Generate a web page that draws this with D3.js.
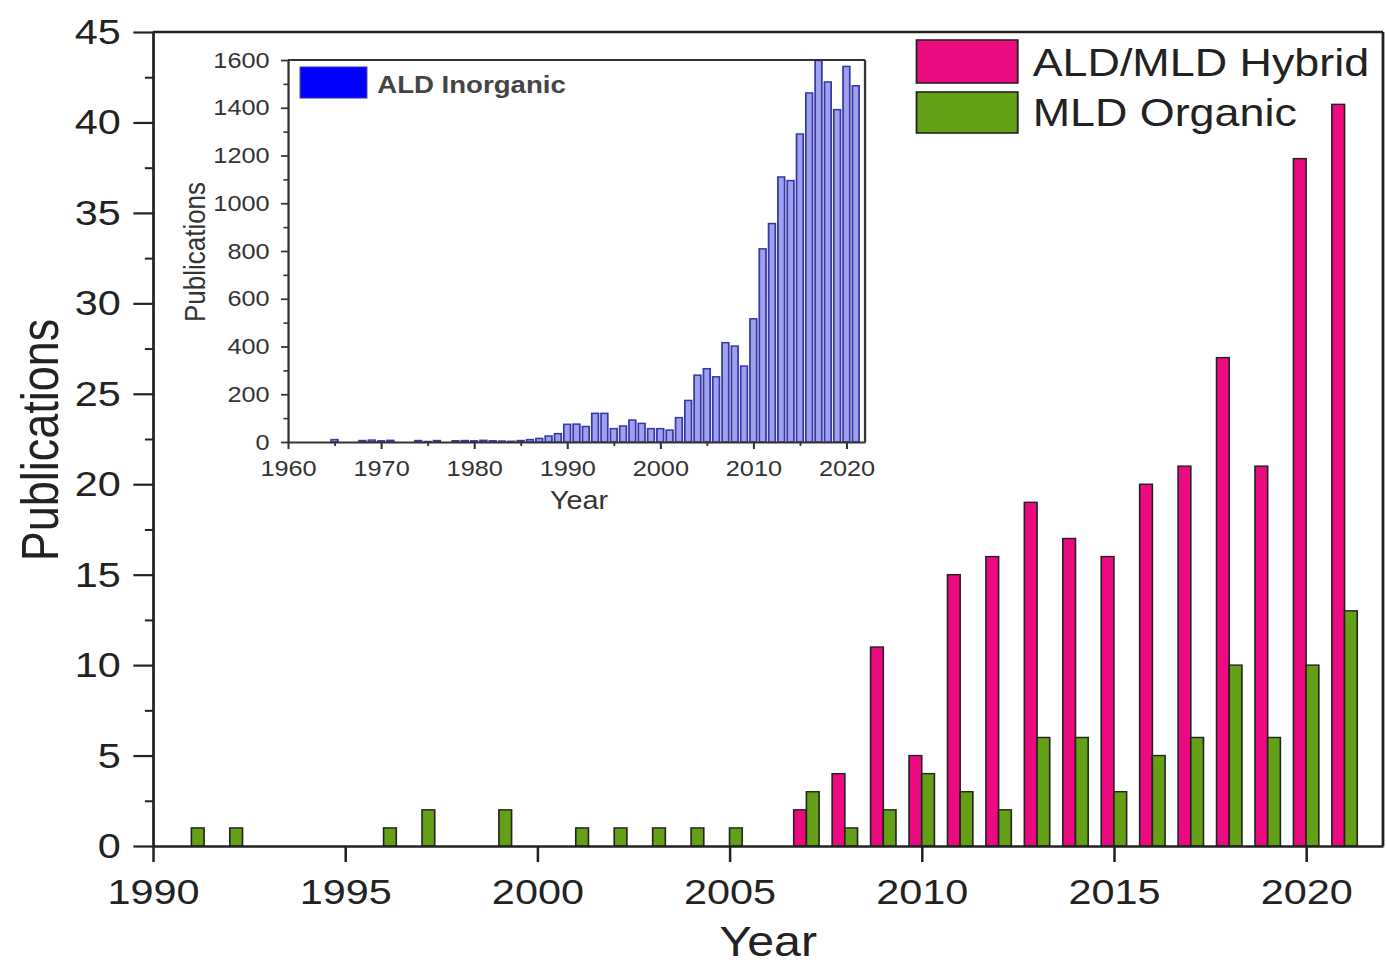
<!DOCTYPE html>
<html>
<head>
<meta charset="utf-8">
<script src="https://cdn.jsdelivr.net/npm/d3@7"></script>
<style>
  html, body { margin: 0; padding: 0; background: #fff; }
  svg { display: block; }
  text { font-family: "Liberation Sans", Arial, Helvetica, sans-serif; }
</style>
</head>
<body>
<svg id="chart" width="1386" height="967"></svg>
<script>
// ---------------- DATA ----------------
// Main chart: years and publication counts
const mainYears   = [1991,1992,1993,1994,1995,1996,1997,1998,1999,2000,2001,2002,2003,2004,2005,2006,2007,2008,2009,2010,2011,2012,2013,2014,2015,2016,2017,2018,2019,2020,2021];
const hybridVals  = [0,0,0,0,0,0,0,0,0,0,0,0,0,0,0,0,2,4,11,5,15,16,19,17,16,20,21,27,21,38,41];
const organicVals = [1,1,0,0,0,1,2,0,2,0,1,1,1,1,1,0,3,1,2,4,3,2,6,6,3,5,6,10,6,10,13];
const mainXTicks  = [1990,1995,2000,2005,2010,2015,2020];
const mainYTicks  = [0,5,10,15,20,25,30,35,40,45];
const mainYMinor  = [2.5,7.5,12.5,17.5,22.5,27.5,32.5,37.5,42.5];
const seriesNames = ["ALD/MLD Hybrid","MLD Organic"];

// Inset: ALD inorganic publications per year
const insetYears = [1960,1961,1962,1963,1964,1965,1966,1967,1968,1969,1970,1971,1972,1973,1974,1975,1976,1977,1978,1979,
                    1980,1981,1982,1983,1984,1985,1986,1987,1988,1989,1990,1991,1992,1993,1994,1995,1996,1997,1998,1999,
                    2000,2001,2002,2003,2004,2005,2006,2007,2008,2009,2010,2011,2012,2013,2014,2015,2016,2017,2018,2019,
                    2020,2021];
const insetVals  = [0,0,0,0,0,10,0,0,6,8,5,7,0,0,6,2,6,0,5,6,
                    5,7,5,4,3,6,10,15,25,35,74,75,65,120,120,56,67,92,78,56,
                    56,50,102,174,280,307,273,416,402,318,516,809,915,1110,1095,1290,1462,1598,1508,1392,
                    1573,1492];
const insetXTicks = [1960,1970,1980,1990,2000,2010,2020];
const insetXMinor = [1965,1975,1985,1995,2005,2015];
const insetYTicks = [0,200,400,600,800,1000,1200,1400,1600];
const insetYMinor = [100,300,500,700,900,1100,1300,1500];
const insetSeries = "ALD Inorganic";

// ---------------- STYLE ----------------
const SX = 1.15;              // horizontal stretch of the reference image
const pink = "#ec0a80", green = "#64a016", blueFill = "#9ea2ec", blueEdge = "#3636a8";
const ink = "#222";

const svg = d3.select("#chart");
const root = svg.append("g").attr("transform", `scale(${SX},1)`);

// ---------------- MAIN CHART ----------------
const m = {left: 133.0, right: 1202.6, top: 32, bottom: 846};
const x = d3.scaleLinear().domain([1990, 2022]).range([m.left, m.right]);
const y = d3.scaleLinear().domain([0, 45]).range([m.bottom, m.top]);

const mainData = mainYears.map((yr, i) => ({yr, h: hybridVals[i], o: organicVals[i]}));

// bars
const barW = 0.33;
root.append("g").selectAll("rect").data(mainData.filter(d => d.h > 0)).join("rect")
  .attr("x", d => x(d.yr - barW)).attr("width", d => x(d.yr) - x(d.yr - barW))
  .attr("y", d => y(d.h)).attr("height", d => y(0) - y(d.h))
  .attr("fill", pink).attr("stroke", ink).attr("stroke-width", 1.4);
root.append("g").selectAll("rect").data(mainData.filter(d => d.o > 0)).join("rect")
  .attr("x", d => x(d.yr)).attr("width", d => x(d.yr + barW) - x(d.yr))
  .attr("y", d => y(d.o)).attr("height", d => y(0) - y(d.o))
  .attr("fill", green).attr("stroke", ink).attr("stroke-width", 1.4);

// axes
function styleAxis(g, fs) {
  g.selectAll("path.domain").attr("stroke", ink).attr("stroke-width", 2.4);
  g.selectAll(".tick line").attr("stroke", ink).attr("stroke-width", 2.2);
  g.selectAll(".tick text").attr("fill", ink).style("font-size", fs + "px")
    .style("font-family", '"Liberation Sans", Arial, sans-serif');
}
const gx = root.append("g").attr("transform", `translate(0,${m.bottom})`)
  .call(d3.axisBottom(x).tickValues(mainXTicks).tickFormat(d3.format("d")).tickSize(16).tickSizeOuter(0).tickPadding(16));
styleAxis(gx, 36);
const gy = root.append("g").attr("transform", `translate(${m.left},0)`)
  .call(d3.axisLeft(y).tickValues(mainYTicks).tickFormat(d3.format("d")).tickSize(17).tickSizeOuter(0).tickPadding(11));
styleAxis(gy, 36);
const gyMinor = root.append("g").attr("transform", `translate(${m.left},0)`)
  .call(d3.axisLeft(y).tickValues(mainYMinor).tickSize(7).tickFormat(""));
gyMinor.select("path.domain").remove();
gyMinor.selectAll(".tick line").attr("stroke", ink).attr("stroke-width", 2);

// frame (top & right)
root.append("line").attr("x1", m.left).attr("x2", m.right).attr("y1", m.top).attr("y2", m.top)
  .attr("stroke", ink).attr("stroke-width", 2.4);
root.append("line").attr("x1", m.right).attr("x2", m.right).attr("y1", m.top).attr("y2", m.bottom)
  .attr("stroke", ink).attr("stroke-width", 2.4);

// axis titles
root.append("text").attr("x", 668).attr("y", 956).attr("text-anchor", "middle")
  .style("font-size", "42px").attr("fill", ink).text("Year");
root.append("text").attr("transform", "translate(50,440) rotate(-90)").attr("text-anchor", "middle")
  .style("font-size", "45px").attr("fill", ink).text("Publications");

// legend
const legColors = [pink, green];
const legY = [40, 92], legH = [43, 41], legBase = [76, 126];
seriesNames.forEach((name, i) => {
  root.append("rect").attr("x", 797).attr("y", legY[i]).attr("width", 88).attr("height", legH[i])
    .attr("fill", legColors[i]).attr("stroke", ink).attr("stroke-width", 1.6);
  root.append("text").attr("x", 898).attr("y", legBase[i]).style("font-size", "39px")
    .attr("fill", ink).text(name);
});

// ---------------- INSET ----------------
const im = {left: 250.4, right: 752.2, top: 60, bottom: 442};
const xi = d3.scaleLinear().domain([1960, 2022]).range([im.left, im.right]);
const yi = d3.scaleLinear().domain([0, 1600]).range([im.bottom, im.top]);
const insetInk = "#333";

root.append("rect").attr("x", im.left).attr("y", im.top).attr("width", im.right - im.left)
  .attr("height", im.bottom - im.top).attr("fill", "#fff");

const insetData = insetYears.map((yr, i) => ({yr, v: insetVals[i]}));
const ibw = 0.36;
root.append("g").selectAll("rect").data(insetData.filter(d => d.v > 0)).join("rect")
  .attr("x", d => xi(d.yr - ibw)).attr("width", d => xi(d.yr + ibw) - xi(d.yr - ibw))
  .attr("y", d => yi(d.v)).attr("height", d => yi(0) - yi(d.v))
  .attr("fill", blueFill).attr("stroke", blueEdge).attr("stroke-width", 1.5);

function styleInset(g) {
  g.selectAll("path.domain").attr("stroke", insetInk).attr("stroke-width", 2);
  g.selectAll(".tick line").attr("stroke", insetInk).attr("stroke-width", 1.8);
  g.selectAll(".tick text").attr("fill", insetInk).style("font-size", "22px")
    .style("font-family", '"Liberation Sans", Arial, sans-serif');
}
const gxi = root.append("g").attr("transform", `translate(0,${im.bottom})`)
  .call(d3.axisBottom(xi).tickValues(insetXTicks).tickFormat(d3.format("d")).tickSize(7).tickSizeOuter(0).tickPadding(11));
styleInset(gxi);
const gxiMinor = root.append("g").attr("transform", `translate(0,${im.bottom})`)
  .call(d3.axisBottom(xi).tickValues(insetXMinor).tickSize(4).tickFormat(""));
gxiMinor.select("path.domain").remove();
gxiMinor.selectAll(".tick line").attr("stroke", insetInk).attr("stroke-width", 1.6);

const gyi = root.append("g").attr("transform", `translate(${im.left},0)`)
  .call(d3.axisLeft(yi).tickValues(insetYTicks).tickFormat(d3.format("d")).tickSize(6).tickSizeOuter(0).tickPadding(10));
styleInset(gyi);
const gyiMinor = root.append("g").attr("transform", `translate(${im.left},0)`)
  .call(d3.axisLeft(yi).tickValues(insetYMinor).tickSize(4).tickFormat(""));
gyiMinor.select("path.domain").remove();
gyiMinor.selectAll(".tick line").attr("stroke", insetInk).attr("stroke-width", 1.6);

// inset frame
root.append("line").attr("x1", im.left).attr("x2", im.right).attr("y1", im.top).attr("y2", im.top)
  .attr("stroke", insetInk).attr("stroke-width", 2);
root.append("line").attr("x1", im.right).attr("x2", im.right).attr("y1", im.top).attr("y2", im.bottom)
  .attr("stroke", insetInk).attr("stroke-width", 2);

// inset titles
root.append("text").attr("x", 503.5).attr("y", 509).attr("text-anchor", "middle")
  .style("font-size", "25px").attr("fill", insetInk).text("Year");
root.append("text").attr("transform", "translate(178,252) rotate(-90)").attr("text-anchor", "middle")
  .style("font-size", "26px").attr("fill", insetInk).text("Publications");

// inset legend
root.append("rect").attr("x", 261).attr("y", 67).attr("width", 58).attr("height", 31)
  .attr("fill", "#0000ff").attr("stroke", "#3030a0").attr("stroke-width", 1);
root.append("text").attr("x", 328).attr("y", 93).style("font-size", "24px").style("font-weight", "bold")
  .attr("fill", "#444").text(insetSeries);
</script>
</body>
</html>
